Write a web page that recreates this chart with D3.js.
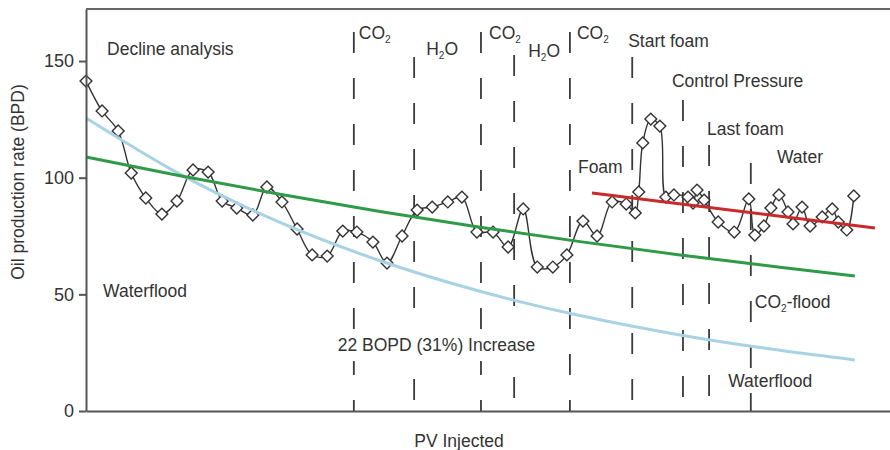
<!DOCTYPE html>
<html>
<head>
<meta charset="utf-8">
<script src="https://cdn.jsdelivr.net/npm/d3@7"></script>
<style>
  body { margin: 0; background: #fff; }
  svg text { font-family: "Liberation Sans", Arial, sans-serif; fill: #333; }
</style>
</head>
<body>
<div id="chart"></div>
<script>
// PV injected vs oil rate
var pvInjected = [0.000, 0.032, 0.064, 0.090, 0.119, 0.151, 0.181, 0.213, 0.243, 0.271,
  0.300, 0.332, 0.360, 0.390, 0.420, 0.450, 0.480, 0.511, 0.539, 0.571,
  0.599, 0.629, 0.659, 0.689, 0.720, 0.748, 0.778, 0.810, 0.840, 0.870,
  0.898, 0.929, 0.957, 0.989, 1.017, 1.047, 1.075, 1.093, 1.100, 1.108,
  1.124, 1.142, 1.154, 1.170, 1.198, 1.208, 1.216, 1.230, 1.258, 1.290,
  1.319, 1.331, 1.349, 1.363, 1.379, 1.397, 1.407, 1.425, 1.441, 1.465,
  1.485, 1.497, 1.514, 1.528];
var oilRate = [141.4, 128.6, 120.0, 102.0, 91.3, 84.4, 90.0, 103.3, 102.4, 90.0,
  87.0, 84.0, 96.0, 89.6, 78.0, 66.9, 66.4, 77.1, 76.7, 72.4,
  63.4, 75.0, 86.1, 87.4, 89.6, 91.7, 76.7, 76.7, 70.3, 86.6,
  61.7, 61.7, 66.9, 81.4, 75.0, 89.6, 88.7, 84.9, 93.9, 114.9,
  125.1, 122.1, 91.7, 92.6, 91.7, 89.1, 94.7, 90.4, 81.0, 76.7,
  90.9, 75.4, 79.3, 87.0, 92.6, 85.3, 80.2, 87.4, 79.3, 83.2,
  86.6, 81.0, 77.6, 92.2];

// decline curves
var curvePV = [0, 0.187, 0.386, 0.585, 0.784, 0.983, 1.182, 1.381, 1.530];
var waterfloodDecline = [125.6, 101.5, 80.8, 64.4, 51.3, 40.9, 32.6, 26.0, 21.9];
var co2Decline = [108.9, 100.8, 92.9, 85.5, 78.8, 72.6, 66.9, 61.6, 57.9];
var foamTrendPV = [1.007, 1.570];
var foamTrend = [93.4, 78.4];

// injection switch markers
var switchPV = [0.533, 0.653, 0.786, 0.852, 0.963, 1.087, 1.188, 1.240, 1.323];
var switchTop = [162.4, 151.7, 162.4, 152.6, 162.4, 151.7, 133.3, 114.0, 106.3];

var yTicks = [0, 50, 100, 150];

var svgWidth = 890, svgHeight = 450;
var margin = { top: 9, right: 0, bottom: 39, left: 86 };
var width = svgWidth - margin.left - margin.right;
var height = svgHeight - margin.top - margin.bottom;

var svg = d3.select("#chart").append("svg")
  .attr("width", svgWidth)
  .attr("height", svgHeight);

var g = svg.append("g")
  .attr("transform", `translate(${margin.left}, ${margin.top})`);

var x = d3.scaleLinear().domain([0, 1.6]).range([0, width]);
var y = d3.scaleLinear().domain([0, 172.3]).range([height, 0]);

// dashed verticals
g.selectAll(".switch")
  .data(switchPV)
  .enter()
  .append("line")
  .attr("x1", d => x(d))
  .attr("x2", d => x(d))
  .attr("y1", (d, i) => y(switchTop[i]))
  .attr("y2", y(0))
  .attr("stroke", "#3a3a3a")
  .attr("stroke-width", 1.8)
  .attr("stroke-dasharray", "21,25");

// data line
var pts = pvInjected.map((d, i) => [d, oilRate[i]]);
var line = d3.line()
  .x(d => x(d[0]))
  .y(d => y(d[1]))
  .curve(d3.curveCatmullRom.alpha(0.5));

g.append("path")
  .datum(pts)
  .attr("d", line)
  .attr("fill", "none")
  .attr("stroke", "#333")
  .attr("stroke-width", 1.4);

g.selectAll(".pt")
  .data(pts)
  .enter()
  .append("path")
  .attr("d", d3.symbol().type(d3.symbolSquare).size(70))
  .attr("transform", d => `translate(${x(d[0])}, ${y(d[1])}) rotate(45)`)
  .attr("fill", "#fff")
  .attr("stroke", "#333")
  .attr("stroke-width", 1.4);

// fitted curves
var smooth = d3.line()
  .x(d => x(d[0]))
  .y(d => y(d[1]))
  .curve(d3.curveMonotoneX);

g.append("path")
  .datum(curvePV.map((d, i) => [d, waterfloodDecline[i]]))
  .attr("d", smooth)
  .attr("fill", "none")
  .attr("stroke", "#a8d3e2")
  .attr("stroke-width", 3);

g.append("path")
  .datum(curvePV.map((d, i) => [d, co2Decline[i]]))
  .attr("d", smooth)
  .attr("fill", "none")
  .attr("stroke", "#2f9a47")
  .attr("stroke-width", 3);

g.append("path")
  .datum(foamTrendPV.map((d, i) => [d, foamTrend[i]]))
  .attr("d", smooth)
  .attr("fill", "none")
  .attr("stroke", "#c92a2a")
  .attr("stroke-width", 3);

// axes / frame
var leftAxis = d3.axisLeft(y).tickValues(yTicks).tickSize(7).tickPadding(5).tickSizeOuter(0);
var yAxis = g.append("g").call(leftAxis);
yAxis.selectAll("text").style("font-size", "18px").attr("fill", "#333");
yAxis.selectAll("line, path").attr("stroke", "#555").attr("stroke-width", 2);

var bottomAxis = d3.axisBottom(x).tickValues([]).tickSizeOuter(0);
g.append("g")
  .attr("transform", `translate(0, ${height})`)
  .call(bottomAxis)
  .select("path").attr("stroke", "#555").attr("stroke-width", 2);

g.append("line")
  .attr("x1", 0).attr("x2", width)
  .attr("y1", 0).attr("y2", 0)
  .attr("stroke", "#666").attr("stroke-width", 2);

// annotations
var labels = [
  { t: "Decline analysis", pv: 0.042, v: 152.6 },
  { t: "Waterflood", pv: 0.034, v: 48.9 },
  { t: "22 BOPD (31%) Increase", pv: 0.501, v: 25.7, bg: true },
  { t: "CO", sub: "2", pv: 0.543, v: 159.4 },
  { t: "H", sub: "2", after: "O", pv: 0.677, v: 152.6 },
  { t: "CO", sub: "2", pv: 0.802, v: 159.4 },
  { t: "H", sub: "2", after: "O", pv: 0.880, v: 151.7 },
  { t: "CO", sub: "2", pv: 0.977, v: 159.4 },
  { t: "Start foam", pv: 1.079, v: 156.0 },
  { t: "Control Pressure", pv: 1.166, v: 138.9 },
  { t: "Last foam", pv: 1.236, v: 118.3 },
  { t: "Water", pv: 1.375, v: 106.3 },
  { t: "Foam", pv: 0.979, v: 102.0 },
  { t: "CO", sub: "2", after: "-flood", pv: 1.331, v: 44.1 },
  { t: "Waterflood", pv: 1.278, v: 10.3 }
];

labels.forEach(function(l) {
  var holder = g.append("g");
  var txt = holder.append("text")
    .attr("x", x(l.pv))
    .attr("y", y(l.v))
    .style("font-size", "17.5px");
  txt.append("tspan").text(l.t);
  if (l.sub) {
    txt.append("tspan").text(l.sub).attr("dy", 4).style("font-size", "10px");
    if (l.after) txt.append("tspan").text(l.after).attr("dy", -4);
  }
  if (l.bg) {
    var bb = txt.node().getBBox();
    holder.insert("rect", "text")
      .attr("x", bb.x - 2).attr("y", bb.y - 6)
      .attr("width", bb.width + 4).attr("height", bb.height + 12)
      .attr("fill", "#fff");
  }
});

svg.append("text")
  .attr("transform", `translate(24, 182) rotate(-90)`)
  .attr("text-anchor", "middle")
  .style("font-size", "17.5px")
  .text("Oil production rate (BPD)");

svg.append("text")
  .attr("x", 459)
  .attr("y", 447)
  .attr("text-anchor", "middle")
  .style("font-size", "17.5px")
  .text("PV Injected");
</script>
</body>
</html>
